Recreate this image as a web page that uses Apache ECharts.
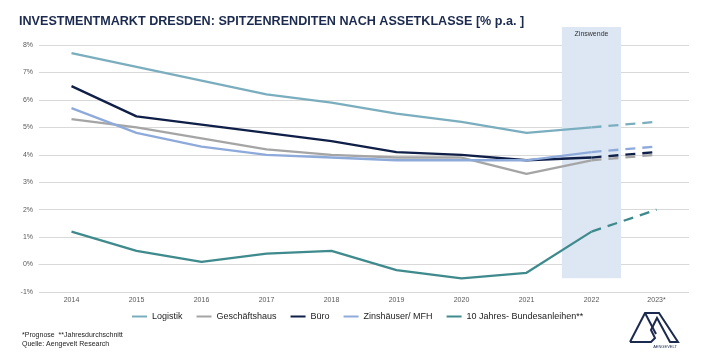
<!DOCTYPE html>
<html><head><meta charset="utf-8">
<script src="https://cdn.jsdelivr.net/npm/echarts@6/dist/echarts.min.js"></script>
<style>html,body{margin:0;padding:0;background:#fff}#c{width:702px;height:355px}</style>
</head><body><div id="c"></div>
<script>
const categories = ['2014','2015','2016','2017','2018','2019','2020','2021','2022','2023*'];
const logistik = [7.7,7.2,6.7,6.2,5.9,5.5,5.2,4.8,5.0,5.2];
const geschaeftshaus = [5.3,5.0,4.6,4.2,4.0,3.9,3.9,3.3,3.8,4.0];
const buero = [6.5,5.4,5.1,4.8,4.5,4.1,4.0,3.8,3.9,4.1];
const zinshaeuser = [5.7,4.8,4.3,4.0,3.9,3.8,3.8,3.8,4.1,4.3];
const bundesanleihen = [1.2,0.5,0.1,0.4,0.5,-0.2,-0.5,-0.3,1.2,2.0];
const seriesNames = ['Logistik','Geschäftshaus','Büro','Zinshäuser/ MFH','10 Jahres- Bundesanleihen**'];
const seriesValues = [logistik, geschaeftshaus, buero, zinshaeuser, bundesanleihen];
const seriesColors = ['#7aaebf','#a5a5a5','#0f1f47','#8eaadb','#3f8a8c'];
const forecastStart = 8;
const bandCategory = '2022';
const bandLabel = 'Zinswende';
const footnote = '*Prognose  **Jahresdurchschnitt\nQuelle: Aengevelt Research';
const titleText = 'INVESTMENTMARKT DRESDEN: SPITZENRENDITEN NACH ASSETKLASSE [% p.a. ]';

const FONT = 'Liberation Sans, Arial, sans-serif';
const chart = echarts.init(document.getElementById('c'), null, {renderer:'canvas'});

const series = [];
seriesValues.forEach((vals, i) => {
  const solid = vals.map((v, j) => j <= forecastStart ? v : null);
  const dashed = vals.map((v, j) => j >= forecastStart ? v : null);
  series.push({
    name: seriesNames[i], type: 'line', data: solid, symbol: 'none', showSymbol: false,
    lineStyle: {color: seriesColors[i], width: 2.3}, itemStyle: {color: seriesColors[i]},
    z: 3 + i, animation: false
  });
  series.push({
    name: seriesNames[i] + ' (Prognose)', type: 'line', data: dashed, symbol: 'none', showSymbol: false,
    lineStyle: {color: seriesColors[i], width: 2.3, type: [10, 7]}, itemStyle: {color: seriesColors[i]},
    z: 3 + i, animation: false
  });
});

chart.setOption({
  animation: false,
  backgroundColor: '#fff',
  title: {
    text: titleText, left: 14, top: 10,
    textStyle: {fontFamily: FONT, fontWeight: 'bold', fontSize: 12.6, color: '#1b2a4e'}
  },
  legend: {
    data: seriesNames, left: 127, top: 307, itemWidth: 15, itemHeight: 10, itemGap: 14,
    icon: 'path://M0,0 L15,0 L15,2 L0,2 Z',
    textStyle: {fontFamily: FONT, fontSize: 9, color: '#222'}
  },
  grid: {left: 39, right: 13, top: 45, bottom: 63},
  xAxis: {
    type: 'category', data: categories, boundaryGap: true,
    axisLine: {show: true, onZero: true, lineStyle: {color: '#d9d9d9', width: 1}},
    axisTick: {show: false},
    axisLabel: {fontFamily: FONT, fontSize: 7, color: '#595959', margin: 5}
  },
  yAxis: {
    type: 'value', min: -1, max: 8, interval: 1,
    axisLine: {show: false}, axisTick: {show: false},
    axisLabel: {formatter: '{value}%', fontFamily: FONT, fontSize: 7, color: '#595959', margin: 6},
    splitLine: {lineStyle: {color: '#d9d9d9', width: 1}}
  },
  series: series
});

function drawExtras() {
  const idx = categories.indexOf(bandCategory);
  const cx = chart.convertToPixel({xAxisIndex: 0}, categories[idx]);
  const cxNext = chart.convertToPixel({xAxisIndex: 0}, categories[idx + 1]);
  const bw = (cxNext - cx) * 0.91;
  const yTop = chart.convertToPixel({yAxisIndex: 0}, 8) - 18;
  const yBot = chart.convertToPixel({yAxisIndex: 0}, -0.5);
  chart.setOption({
    graphic: [
      {type: 'rect', z: 1, shape: {x: cx - bw / 2, y: yTop, width: bw, height: yBot - yTop},
       style: {fill: '#dde7f4'}},
      {type: 'text', z: 2, x: cx, y: yTop + 4,
       style: {text: bandLabel, fill: '#333', font: '7px ' + FONT, textAlign: 'center', textVerticalAlign: 'top'}},
      {type: 'text', z: 2, left: 22, top: 331,
       style: {text: footnote, fill: '#222', font: '7px ' + FONT, lineHeight: 9}},
      {type: 'polyline', z: 2,
       shape: {points: [[630,342],[645,313],[659,313],[678,342],[670,342],[657,318],[651,330],[655,338],[651,342],[630,342]]},
       style: {stroke: '#1b2a4e', lineWidth: 2, fill: null, lineJoin: 'miter'}},
      {type: 'polyline', z: 2, shape: {points: [[645,313],[656,334]]},
       style: {stroke: '#1b2a4e', lineWidth: 2, fill: null}},
      {type: 'text', z: 2, x: 665, y: 345,
       style: {text: 'AENGEVELT', fill: '#1b2a4e', font: '4px ' + FONT, textAlign: 'center', textVerticalAlign: 'top'}}
    ]
  });
}
drawExtras();
</script></body></html>
